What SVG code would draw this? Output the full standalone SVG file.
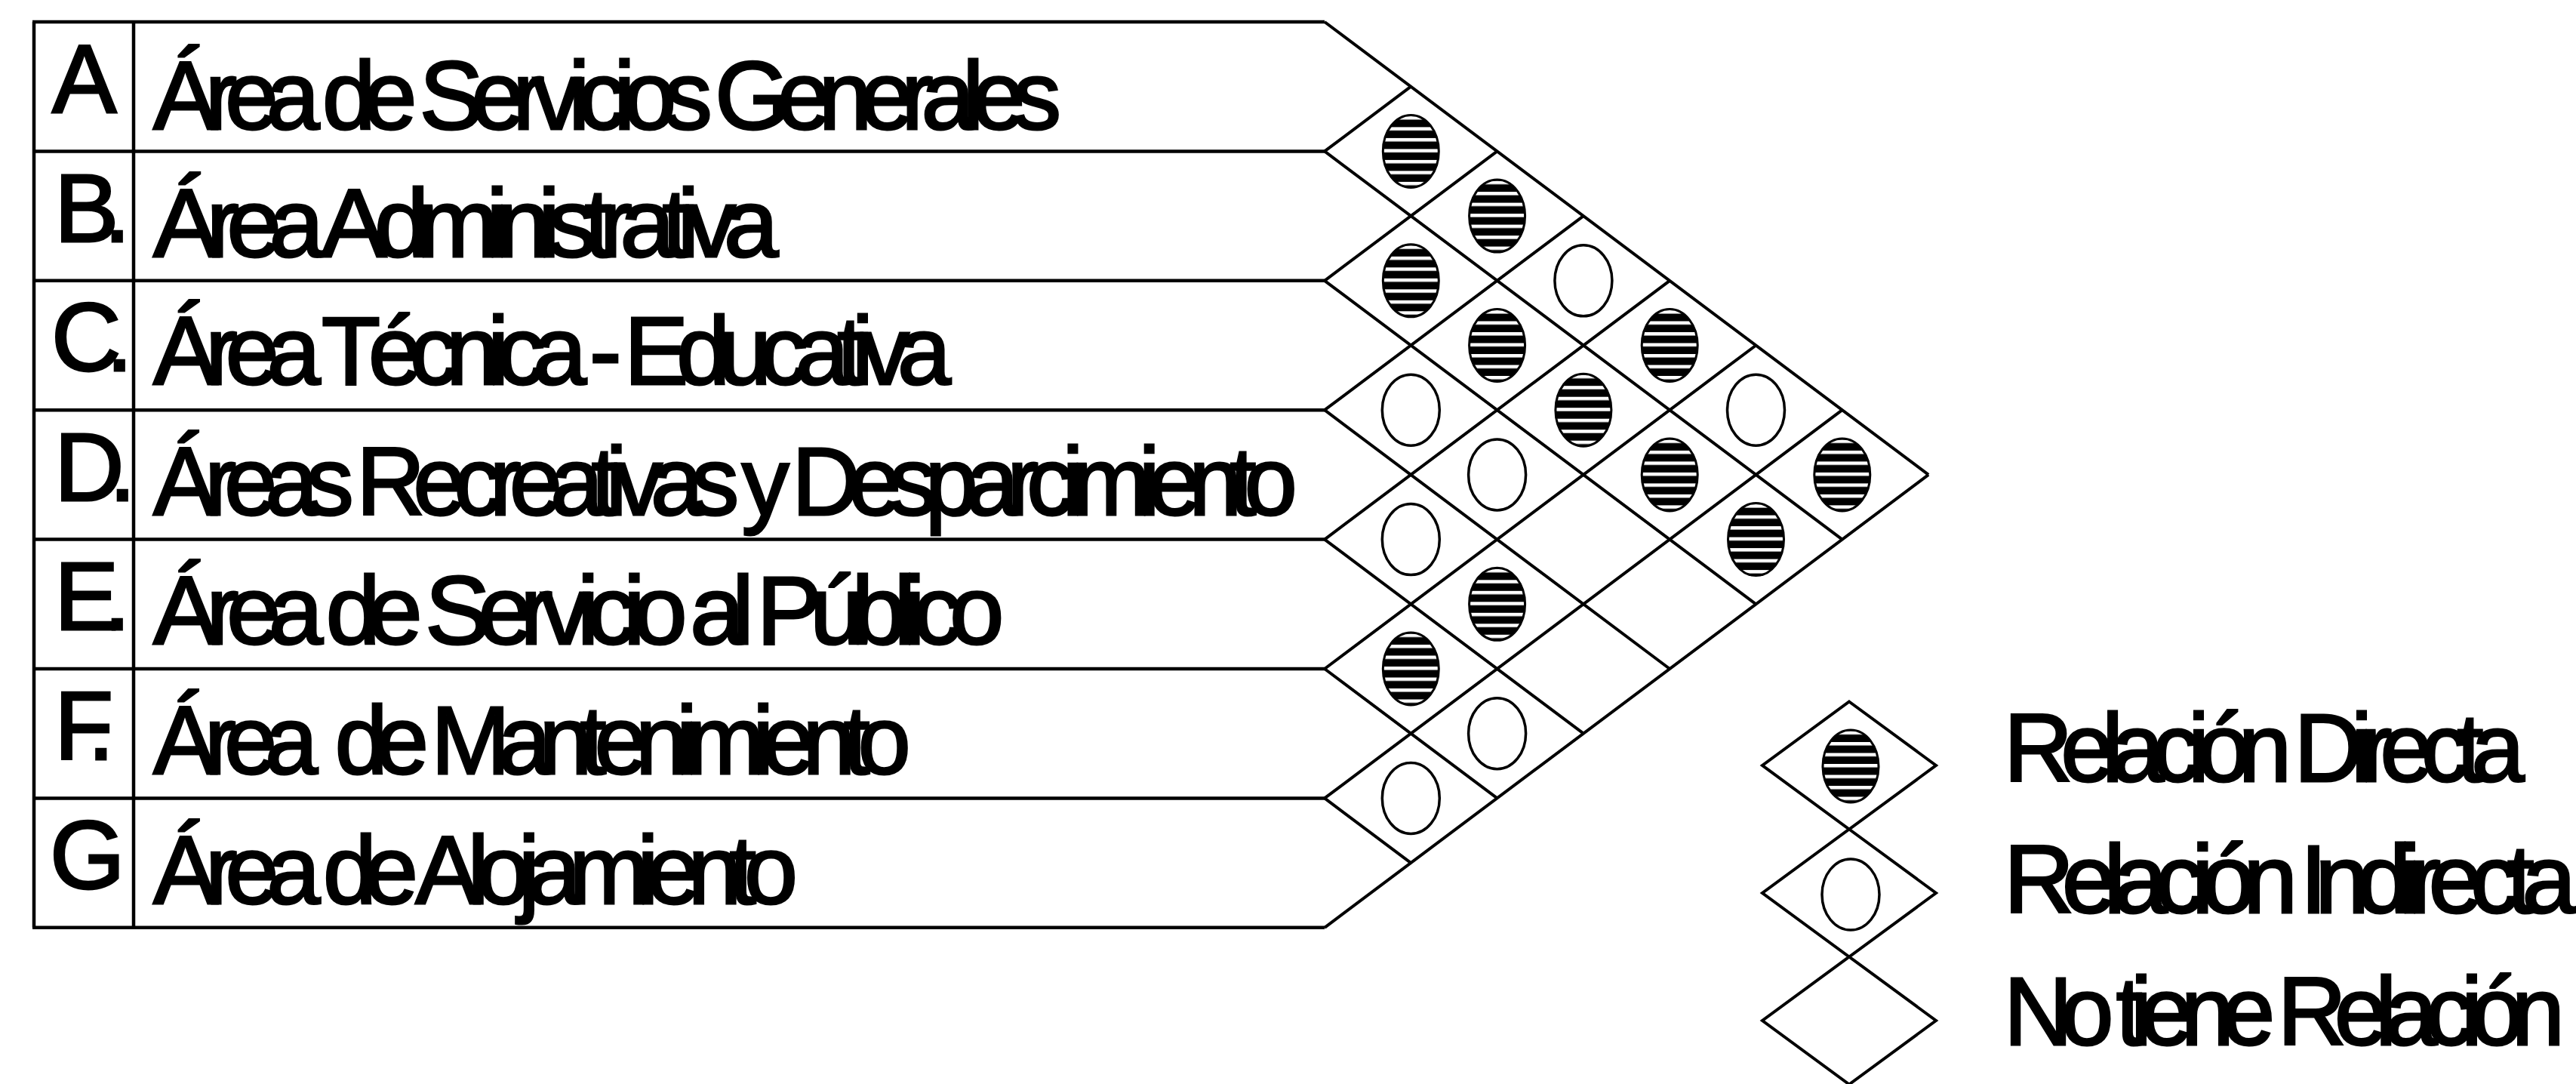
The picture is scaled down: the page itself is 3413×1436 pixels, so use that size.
<svg xmlns="http://www.w3.org/2000/svg" width="3413" height="1436" viewBox="0 0 3413 1436">
<style>
.ln{stroke:#000;stroke-width:4.5;fill:none}
.dg{stroke:#000;stroke-width:4;fill:none}
.t{font-family:"Liberation Sans",Arial,sans-serif;font-size:128px;fill:#000;stroke:#000;stroke-width:3;letter-spacing:-16px}
.lt{font-family:"Liberation Sans",Arial,sans-serif;font-size:128px;fill:#000;stroke:#000;stroke-width:3;letter-spacing:-20px}
</style>
<defs>
<pattern id="stripes" patternUnits="userSpaceOnUse" x="0" y="-3" width="20" height="14.5">
<rect width="20" height="14.5" fill="#000"/><rect width="20" height="4.5" fill="#fff"/>
</pattern>
<g id="direct"><ellipse rx="37" ry="48" fill="url(#stripes)" stroke="#000" stroke-width="3"/></g>
<g id="indirect"><ellipse rx="38" ry="47" fill="none" stroke="#000" stroke-width="3.5"/></g>
</defs>
<rect width="3413" height="1436" fill="#fff"/>

<g id="rows">
<g id="row-A"><text class="lt" x="69" y="148.5">A</text><text class="t" x="203" y="171" textLength="1187" lengthAdjust="spacingAndGlyphs">Área de Servicios Generales</text></g>
<g id="row-B"><text class="lt" x="72" y="319.9">B.</text><text class="t" x="203" y="339.6" textLength="812" lengthAdjust="spacingAndGlyphs">Área Administrativa</text></g>
<g id="row-C"><text class="lt" x="68" y="491.3">C.</text><text class="t" x="203" y="509" textLength="1041" lengthAdjust="spacingAndGlyphs">Área Técnica - Educativa</text></g>
<g id="row-D"><text class="lt" x="72" y="662.7">D.</text><text class="t" x="203" y="682.4" textLength="1500" lengthAdjust="spacingAndGlyphs">Áreas Recreativas y Desparcimiento</text></g>
<g id="row-E"><text class="lt" x="72" y="834.1">E.</text><text class="t" x="203" y="853" textLength="1111" lengthAdjust="spacingAndGlyphs">Área de Servicio al Público</text></g>
<g id="row-F"><text class="lt" x="72" y="1005.5">F.</text><text class="t" x="203" y="1024.5" textLength="988" lengthAdjust="spacingAndGlyphs" xml:space="preserve">Área  de Mantenimiento</text></g>
<g id="row-G"><text class="lt" x="66" y="1176.9">G</text><text class="t" x="203" y="1197" textLength="838" lengthAdjust="spacingAndGlyphs">Área de Alojamiento</text></g>
</g>

<g id="connectors">
<path class="ln" d="M43,29H1755 M45,200.4H1755 M45,371.8H1755 M45,543.2H1755 M45,714.6H1755 M45,886H1755 M45,1057.4H1755 M43,1228.8H1755"/>
<path class="ln" d="M45,29V1228.8 M177,29V1228.8"/>
<path class="dg" d="M1755,200.4L1869.3,114.7 M1755,371.8L1983.6,200.4 M1755,543.2L2097.9,286.1 M1755,714.6L2212.2,371.8 M1755,886L2326.5,457.5 M1755,1057.4L2440.8,543.2 M1755,1228.8L2555.1,628.9"/>
<path class="dg" d="M1755,29L2555.1,628.9 M1755,200.4L2440.8,714.6 M1755,371.8L2326.5,800.3 M1755,543.2L2212.2,886 M1755,714.6L2097.9,971.7 M1755,886L1983.6,1057.4 M1755,1057.4L1869.3,1143.1"/>
</g>

<g id="cells">
<use href="#direct" x="1869.3" y="200.4"/>
<use href="#direct" x="1869.3" y="371.8"/>
<use href="#indirect" x="1869.3" y="543.2"/>
<use href="#indirect" x="1869.3" y="714.6"/>
<use href="#direct" x="1869.3" y="886"/>
<use href="#indirect" x="1869.3" y="1057.4"/>
<use href="#direct" x="1983.6" y="286.1"/>
<use href="#direct" x="1983.6" y="457.5"/>
<use href="#indirect" x="1983.6" y="628.9"/>
<use href="#direct" x="1983.6" y="800.3"/>
<use href="#indirect" x="1983.6" y="971.7"/>
<use href="#indirect" x="2097.9" y="371.8"/>
<use href="#direct" x="2097.9" y="543.2"/>
<use href="#direct" x="2212.2" y="457.5"/>
<use href="#direct" x="2212.2" y="628.9"/>
<use href="#indirect" x="2326.5" y="543.2"/>
<use href="#direct" x="2326.5" y="714.6"/>
<use href="#direct" x="2440.8" y="628.9"/>
</g>

<g id="legend">
<g id="legend-direct">
<polygon class="dg" points="2450,929.5 2565,1014 2450,1098.5 2335,1014"/>
<use href="#direct" x="2452" y="1015"/>
<text class="t" x="2655" y="1035" textLength="674" lengthAdjust="spacingAndGlyphs">Relación Directa</text>
</g>
<g id="legend-indirect">
<polygon class="dg" points="2450,1098.5 2565,1183 2450,1267.5 2335,1183"/>
<use href="#indirect" x="2452" y="1185"/>
<text class="t" x="2655" y="1209" textLength="742" lengthAdjust="spacingAndGlyphs">Relación Indirecta</text>
</g>
<g id="legend-none">
<polygon class="dg" points="2450,1267.5 2565,1352 2450,1436.5 2335,1352"/>
<text class="t" x="2655" y="1384" textLength="727" lengthAdjust="spacingAndGlyphs">No tiene Relación</text>
</g>
</g>
</svg>
